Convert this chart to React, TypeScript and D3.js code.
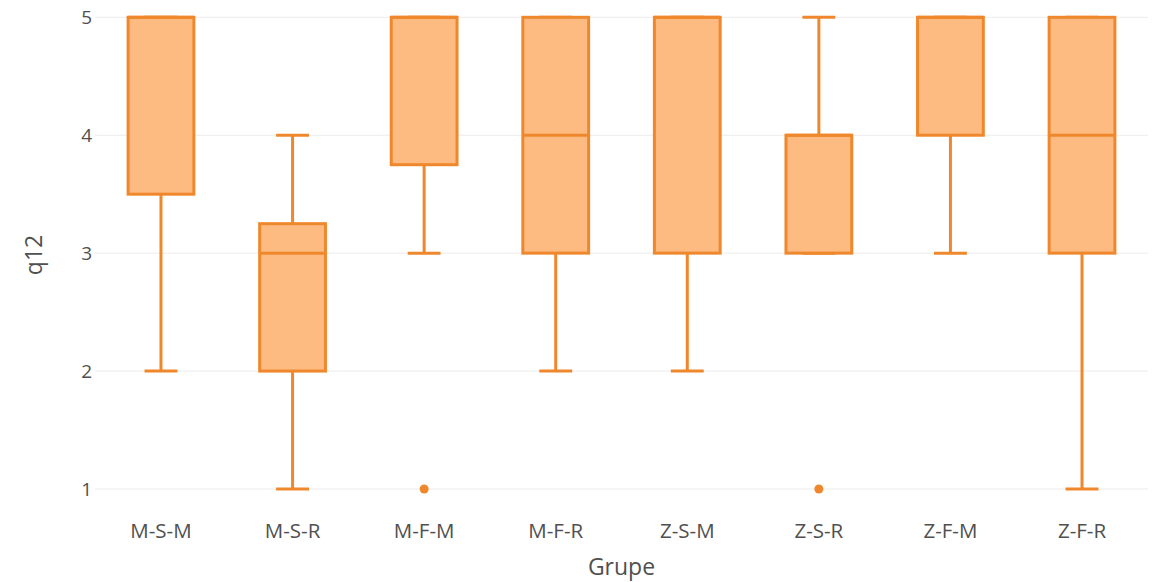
import React from "react";
import * as d3 from "d3";

const categories = ["M-S-M", "M-S-R", "M-F-M", "M-F-R", "Z-S-M", "Z-S-R", "Z-F-M", "Z-F-R"];
const lowerWhisker = [2, 1, 3, 2, 2, 3, 3, 1];
const q1 = [3.5, 2, 3.75, 3, 3, 3, 4, 3];
const median = [5, 3, 5, 4, 5, 4, 5, 4];
const q3 = [5, 3.25, 5, 5, 5, 4, 5, 5];
const upperWhisker = [5, 4, 5, 5, 5, 5, 5, 5];
const outliers: [string, number][] = [["M-F-M", 1], ["Z-S-R", 1]];
const yTicks = [1, 2, 3, 4, 5];

const W = 1165, H = 582;
const STROKE = "#ef882c";
const FILL = "#fdba81";
const TEXT = "#505050";
const FONT = "'Open Sans', sans-serif";

export default function App() {
  const x = d3.scaleBand<string>().domain(categories).range([95.2, 1147.8]).padding(0);
  const y = d3.scaleLinear().domain([1, 5]).range([489, 17.3]);
  const bw = x.bandwidth() * 0.5;
  const cap = bw / 2;
  const cx = (c: string) => (x(c) as number) + x.bandwidth() / 2;

  return (
    <svg width={W} height={H} style={{ position: "absolute", left: 0, top: 0, background: "#fff" }}>
      {yTicks.map((t) => (
        <g key={t}>
          <line x1={95} x2={1148} y1={y(t)} y2={y(t)} stroke="#ebebeb" strokeWidth={1} />
          <text x={92} y={y(t)} dy="0.35em" textAnchor="end" fontFamily={FONT} fontSize={19} fill={TEXT}>
            {t}
          </text>
        </g>
      ))}
      {categories.map((c, i) => {
        const m = cx(c);
        return (
          <g key={c} stroke={STROKE} strokeWidth={3} fill="none">
            <line x1={m} x2={m} y1={y(q1[i])} y2={y(lowerWhisker[i])} />
            <line x1={m} x2={m} y1={y(q3[i])} y2={y(upperWhisker[i])} />
            <line x1={m - cap / 2} x2={m + cap / 2} y1={y(lowerWhisker[i])} y2={y(lowerWhisker[i])} />
            <line x1={m - cap / 2} x2={m + cap / 2} y1={y(upperWhisker[i])} y2={y(upperWhisker[i])} />
            <rect x={m - bw / 2} width={bw} y={y(q3[i])} height={y(q1[i]) - y(q3[i])} fill={FILL} />
            <line x1={m - bw / 2} x2={m + bw / 2} y1={y(median[i])} y2={y(median[i])} />
          </g>
        );
      })}
      {outliers.map(([c, v], i) => (
        <circle key={i} cx={cx(c)} cy={y(v)} r={4.5} fill={STROKE} />
      ))}
      {categories.map((c) => (
        <text key={c} x={cx(c)} y={538} textAnchor="middle" fontFamily={FONT} fontSize={20.5} fill={TEXT}>
          {c}
        </text>
      ))}
      <text x={621.5} y={575} textAnchor="middle" fontFamily={FONT} fontSize={23} fill={TEXT}>
        Grupe
      </text>
      <text transform="translate(42,255) rotate(-90)" textAnchor="middle" fontFamily={FONT} fontSize={23} fill={TEXT}>
        q12
      </text>
    </svg>
  );
}
